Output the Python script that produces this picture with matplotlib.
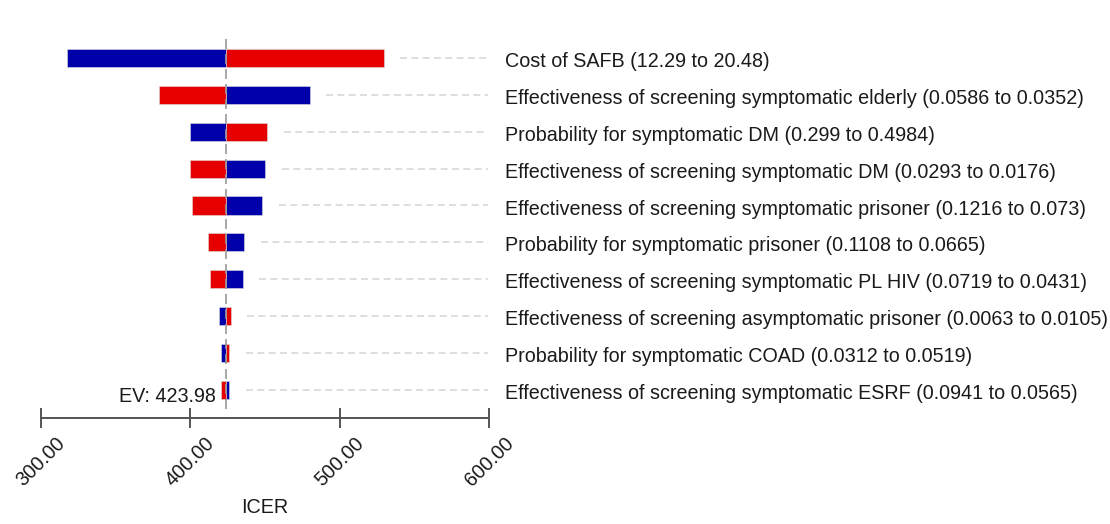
import matplotlib
matplotlib.use('Agg')
import matplotlib.pyplot as plt
import numpy as np

plt.rcParams['font.family'] = ['Liberation Sans', 'DejaVu Sans']

# Tornado data (ICER at each end of the parameter range)
labels = [
    'Cost of SAFB (12.29 to 20.48)',
    'Effectiveness of screening symptomatic elderly (0.0586 to 0.0352)',
    'Probability for symptomatic DM (0.299 to 0.4984)',
    'Effectiveness of screening symptomatic DM (0.0293 to 0.0176)',
    'Effectiveness of screening symptomatic prisoner (0.1216 to 0.073)',
    'Probability for symptomatic prisoner (0.1108 to 0.0665)',
    'Effectiveness of screening symptomatic PL HIV (0.0719 to 0.0431)',
    'Effectiveness of screening asymptomatic prisoner (0.0063 to 0.0105)',
    'Probability for symptomatic COAD (0.0312 to 0.0519)',
    'Effectiveness of screening symptomatic ESRF (0.0941 to 0.0565)',
]
blue_icer = [317.5, 480.1, 400.0, 450.5, 448.3, 436.2, 435.2, 419.5, 420.7, 426.4]
red_icer = [529.6, 379.2, 451.6, 400.0, 401.3, 412.2, 413.1, 427.3, 426.2, 420.7]
ev = 423.98
xticks = [300, 400, 500, 600]

BLUE = '#0000AA'
RED = '#E60000'
FS = 14.2

fig = plt.figure(figsize=(11.1, 5.24), dpi=100)
ax = fig.add_axes([40.5 / 1110, (524 - 418) / 524, 448.5 / 1110, 383 / 524])

rows = np.arange(1, len(labels) + 1)
ax.barh(rows, np.array(blue_icer) - ev, left=ev, height=0.49, color=BLUE,
        edgecolor='#dddddd', linewidth=0.4)
ax.barh(rows, np.array(red_icer) - ev, left=ev, height=0.49, color=RED,
        edgecolor='#dddddd', linewidth=0.4)

# dashed guide lines from the bar end to the label
for y, b, r, lab in zip(rows, blue_icer, red_icer, labels):
    start = max(b, r, ev) + 11
    ax.plot([start, 599], [y, y], color='#d8d8d8', linewidth=1.2,
            linestyle=(0, (4.2, 2.6)), clip_on=False)
    ax.text(1.0357, y + 0.245, lab, transform=ax.get_yaxis_transform(),
            ha='left', va='baseline', fontsize=FS, color='#1a1a1a', clip_on=False)

# expected value line
ax.vlines(ev, 0.5, 10.65, colors='#999999', linewidth=1.2, linestyles=(0, (6, 3)))
ax.annotate(f'EV: {ev:.2f}', xy=(ev, 10.317), xytext=(-7, 0),
            textcoords='offset points', ha='right', va='baseline',
            fontsize=FS, color='#1a1a1a')

ax.set_xlim(300, 600)
ax.set_ylim(10.76, 0.38)
ax.set_yticks([])
for s in ['top', 'right', 'left']:
    ax.spines[s].set_visible(False)
ax.spines['bottom'].set_color('#555555')
ax.spines['bottom'].set_linewidth(1.4)

ax.set_xticks(xticks)
ax.set_xticklabels([f'{t:.2f}' for t in xticks], rotation=45, ha='center')
ax.tick_params(axis='x', direction='inout', length=14, width=1.4, color='#555555',
               labelsize=FS, labelcolor='#1a1a1a', pad=4)
ax.set_xlabel('ICER', fontsize=FS, color='#1a1a1a', labelpad=6)

fig.savefig('out.png', dpi=100)
